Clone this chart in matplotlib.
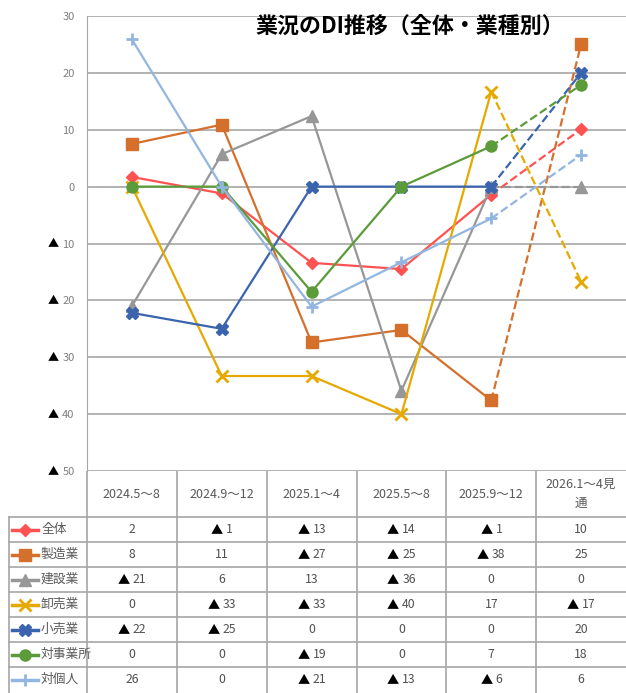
import matplotlib
matplotlib.use('Agg')
import matplotlib.pyplot as plt
from matplotlib import transforms
from matplotlib.patches import Rectangle
from matplotlib.lines import Line2D

plt.rcParams['font.family'] = ['Noto Sans CJK JP', 'DejaVu Sans']

# 期間（表の見出し）
periods = ['2024.5～8', '2024.9～12', '2025.1～4', '2025.5～8', '2025.9～12', '2026.1～4見\n通']
names = ['全体', '製造業', '建設業', '卸売業', '小売業', '対事業所', '対個人']

# グラフ上の値（小数あり）
zentai = [1.7, -1.2, -13.4, -14.5, -1.4, 10.1]
seizo = [7.5, 10.9, -27.4, -25.2, -37.6, 25.0]
kensetsu = [-21.0, 5.7, 12.4, -35.9, 0.0, 0.0]
oroshi = [0.0, -33.3, -33.3, -40.0, 16.7, -16.7]
kouri = [-22.2, -25.0, 0.0, 0.0, 0.0, 20.0]
taijigyo = [0.0, 0.0, -18.5, 0.0, 7.1, 17.9]
taikojin = [25.9, 0.0, -21.1, -13.3, -5.6, 5.6]

# 表の値（▲はマイナス）
t_zentai = ['2', '▲ 1', '▲ 13', '▲ 14', '▲ 1', '10']
t_seizo = ['8', '11', '▲ 27', '▲ 25', '▲ 38', '25']
t_kensetsu = ['▲ 21', '6', '13', '▲ 36', '0', '0']
t_oroshi = ['0', '▲ 33', '▲ 33', '▲ 40', '17', '▲ 17']
t_kouri = ['▲ 22', '▲ 25', '0', '0', '0', '20']
t_taijigyo = ['0', '0', '▲ 19', '0', '7', '18']
t_taikojin = ['26', '0', '▲ 21', '▲ 13', '▲ 6', '6']

series = [zentai, seizo, kensetsu, oroshi, kouri, taijigyo, taikojin]
table_rows = [t_zentai, t_seizo, t_kensetsu, t_oroshi, t_kouri, t_taijigyo, t_taikojin]

styles = [
    dict(color='#FF5252', marker='D', ms=6),
    dict(color='#D4702C', marker='s', ms=8),
    dict(color='#979797', marker='^', ms=8),
    dict(color='#E5A900', marker='x', ms=8, mew=2),
    dict(color='#3B64AF', marker='X', ms=8),
    dict(color='#5C9B39', marker='o', ms=8),
    dict(color='#92B6E0', marker='+', ms=9, mew=2),
]

W, H = 626, 693
fig = plt.figure(figsize=(W / 100, H / 100), dpi=100)

# グラフ部分（ピクセル位置から）
ax = fig.add_axes([87 / W, (H - 471) / H, (W - 87) / W, (471 - 16) / H])
x = list(range(len(periods)))
for vals, st in zip(series, styles):
    ax.plot(x[:5], vals[:5], lw=1.6, **st)
    ax.plot(x[4:], vals[4:], lw=1.6, ls='--', color=st['color'])
    ax.plot(x[5:], vals[5:], lw=0, **st)

ax.set_xlim(-0.5, 5.5)
ax.set_ylim(-50, 30)
yt = list(range(-50, 31, 10))
ax.set_yticks(yt)
ax.set_yticklabels([str(abs(v)) for v in yt], color='#7f7f7f', fontsize=8)
ax.tick_params(axis='y', length=0, pad=9)
ax.set_xticks([])
ax.grid(axis='y', color='#a6a6a6', lw=1.2)
ax.set_axisbelow(True)
for s in ['top', 'right', 'bottom']:
    ax.spines[s].set_visible(False)
ax.spines['left'].set_color('#a6a6a6')

fig.text(410 / W, 1 - 26 / H, '業況のDI推移（全体・業種別）', ha='center', va='center',
         fontsize=15.8, fontweight='bold', color='black')

# 表部分（座標はピクセル）
tax = fig.add_axes([0, 0, 1, (H - 471) / H])
tax.set_xlim(0, W)
tax.set_ylim(222, 0)
tax.axis('off')
mix = transforms.blended_transform_factory(ax.transData, tax.transData)

head_h, row_h = 46, 25
grid_c = '#a6a6a6'
for b in [-0.5, 0.5, 1.5, 2.5, 3.5, 4.5]:
    tax.add_line(Line2D([b, b], [0, 222], color=grid_c, lw=1.2, transform=mix))
tax.add_line(Line2D([9, 9], [head_h, 222], color=grid_c, lw=1.2))
for i in range(len(names)):
    yy = head_h + row_h * i
    tax.add_line(Line2D([9, W], [yy, yy], color=grid_c, lw=1.2))

for i, p in enumerate(periods):
    tax.text(i, head_h / 2, p, transform=mix, ha='center', va='center',
             fontsize=9, color='#595959', linespacing=1.6)

# 列の中心（ピクセル）
col_px = [ax.transData.transform((c, 0))[0] - tax.transData.transform((0, 0))[0] for c in x]

pending = []
for r, (nm, st, row) in enumerate(zip(names, styles, table_rows)):
    yc = head_h + row_h * (r + 0.5)
    tax.plot([12, 38], [yc, yc], color=st['color'], lw=2.5)
    tax.plot([25], [yc], lw=0, **st)
    clip = Rectangle((9, head_h + row_h * r), 76, row_h, transform=tax.transData)
    t = tax.text(41, yc, nm, ha='left', va='center', fontsize=9.2, color='#595959')
    t.set_clip_path(clip)
    for c, s in enumerate(row):
        if s.startswith('▲'):
            tri = tax.text(0, yc, '▲', ha='left', va='center', fontsize=8.8, color='black')
            num = tax.text(0, yc, s[1:].strip(), ha='left', va='center',
                           fontsize=8.8, color='#505050')
            pending.append((tri, num, col_px[c]))
        else:
            tax.text(col_px[c], yc, s, ha='center', va='center', fontsize=8.8, color='#505050')

# ▲と数字を並べて中央寄せ
gap = 3
fig.canvas.draw()
rend = fig.canvas.get_renderer()
for tri, num, xc in pending:
    w1 = tri.get_window_extent(rend).width
    w2 = num.get_window_extent(rend).width
    x0 = xc - (w1 + gap + w2) / 2
    tri.set_x(x0)
    num.set_x(x0 + w1 + gap)

# 目盛りの▲（黒）
for lab, v in zip(ax.get_yticklabels(), yt):
    if v >= 0:
        continue
    bb = lab.get_window_extent(rend)
    fx, fy = fig.transFigure.inverted().transform((bb.x0 - gap, (bb.y0 + bb.y1) / 2))
    fig.text(fx, fy, '▲', ha='right', va='center', fontsize=8, color='black')

fig.savefig('out.png', dpi=100)
